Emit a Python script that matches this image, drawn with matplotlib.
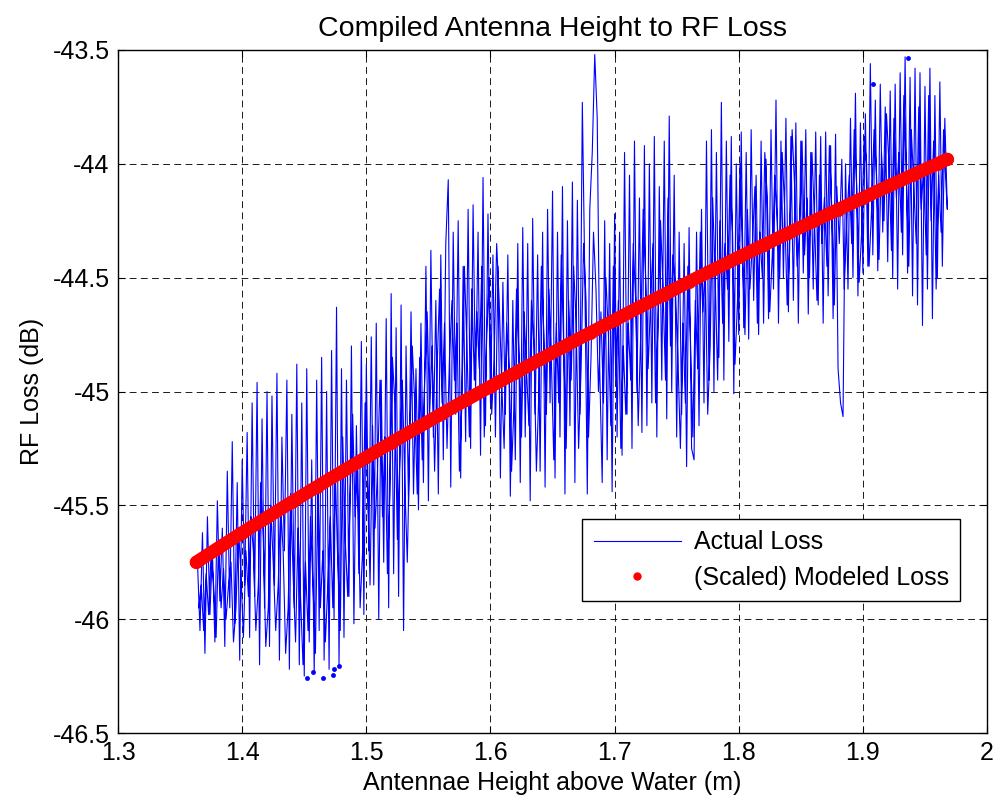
import matplotlib
matplotlib.use("Agg")
import matplotlib.pyplot as plt
from matplotlib.lines import Line2D

plt.rcParams['font.family'] = ['Liberation Sans', 'DejaVu Sans']

height = [
    1.364, 1.366, 1.368, 1.370, 1.372, 1.374, 1.376, 1.378, 1.380, 1.382,
    1.384, 1.386, 1.388, 1.390, 1.392, 1.394, 1.396, 1.398, 1.400, 1.402,
    1.404, 1.406, 1.408, 1.410, 1.412, 1.414, 1.416, 1.418, 1.420, 1.422,
    1.424, 1.426, 1.428, 1.430, 1.432, 1.434, 1.436, 1.438, 1.440, 1.442,
    1.444, 1.446, 1.448, 1.450, 1.452, 1.454, 1.456, 1.458, 1.460, 1.462,
    1.464, 1.466, 1.468, 1.470, 1.472, 1.474, 1.476, 1.478, 1.480, 1.482,
    1.484, 1.486, 1.488, 1.490, 1.492, 1.494, 1.496, 1.498, 1.500, 1.502,
    1.504, 1.506, 1.508, 1.510, 1.512, 1.514, 1.516, 1.518, 1.520, 1.522,
    1.524, 1.526, 1.528, 1.530, 1.532, 1.534, 1.536, 1.538, 1.540, 1.542,
    1.544, 1.546, 1.548, 1.550, 1.552, 1.554, 1.556, 1.558, 1.560, 1.562,
    1.564, 1.566, 1.568, 1.570, 1.572, 1.574, 1.576, 1.578, 1.580, 1.582,
    1.584, 1.586, 1.588, 1.590, 1.592, 1.594, 1.596, 1.598, 1.600, 1.602,
    1.604, 1.606, 1.608, 1.610, 1.612, 1.614, 1.616, 1.618, 1.620, 1.622,
    1.624, 1.626, 1.628, 1.630, 1.632, 1.634, 1.636, 1.638, 1.640, 1.642,
    1.644, 1.646, 1.648, 1.650, 1.652, 1.654, 1.656, 1.658, 1.660, 1.662,
    1.664, 1.666, 1.668, 1.670, 1.672, 1.674, 1.676, 1.678, 1.680, 1.682,
    1.684, 1.686, 1.688, 1.690, 1.692, 1.694, 1.696, 1.698, 1.700, 1.702,
    1.704, 1.706, 1.708, 1.710, 1.712, 1.714, 1.716, 1.718, 1.720, 1.722,
    1.724, 1.726, 1.728, 1.730, 1.732, 1.734, 1.736, 1.738, 1.740, 1.742,
    1.744, 1.746, 1.748, 1.750, 1.752, 1.754, 1.756, 1.758, 1.760, 1.762,
    1.764, 1.766, 1.768, 1.770, 1.772, 1.774, 1.776, 1.778, 1.780, 1.782,
    1.784, 1.786, 1.788, 1.790, 1.792, 1.794, 1.796, 1.798, 1.800, 1.802,
    1.804, 1.806, 1.808, 1.810, 1.812, 1.814, 1.816, 1.818, 1.820, 1.822,
    1.824, 1.826, 1.828, 1.830, 1.832, 1.834, 1.836, 1.838, 1.840, 1.842,
    1.844, 1.846, 1.848, 1.850, 1.852, 1.854, 1.856, 1.858, 1.860, 1.862,
    1.864, 1.866, 1.868, 1.870, 1.872, 1.874, 1.876, 1.878, 1.880, 1.882,
    1.884, 1.886, 1.888, 1.890, 1.892, 1.894, 1.896, 1.898, 1.900, 1.902,
    1.904, 1.906, 1.908, 1.910, 1.912, 1.914, 1.916, 1.918, 1.920, 1.922,
    1.924, 1.926, 1.928, 1.930, 1.932, 1.934, 1.936, 1.938, 1.940, 1.942,
    1.944, 1.946, 1.948, 1.950, 1.952, 1.954, 1.956, 1.958, 1.960, 1.962,
    1.964, 1.966, 1.968,
]
loss = [
    -45.75, -46.05, -45.62, -46.15, -45.55, -45.98, -45.70, -46.10, -45.48, -45.92,
    -45.60, -46.12, -45.35, -45.95, -45.22, -46.02, -45.40, -46.18, -45.30, -45.85,
    -45.18, -46.08, -45.05, -45.90, -44.96, -46.20, -45.12, -45.95, -45.00, -46.12,
    -45.02, -45.85, -44.92, -46.18, -45.20, -45.70, -44.95, -46.22, -45.10, -45.95,
    -44.88, -46.20, -45.05, -46.25, -44.90, -46.10, -45.30, -46.24, -44.95, -46.05,
    -44.85, -46.18, -45.00, -46.22, -44.82, -46.00, -44.63, -46.20, -44.90, -46.08,
    -44.95, -45.90, -44.80, -46.02, -45.15, -45.80, -44.78, -45.98, -44.88, -45.70,
    -44.76, -45.85, -44.70, -46.00, -44.95, -45.75, -44.68, -45.95, -44.57, -45.80,
    -44.72, -45.90, -44.62, -46.05, -44.80, -45.50, -44.65, -45.45, -44.90, -45.52,
    -44.70, -45.40, -44.45, -45.48, -44.38, -45.20, -44.60, -45.45, -44.40, -45.30,
    -44.35, -44.07, -45.42, -44.30, -45.10, -44.25, -45.38, -44.45, -45.22, -44.20,
    -45.25, -44.18, -45.00, -44.30, -45.28, -44.06, -45.15, -44.22, -45.05, -44.40,
    -45.20, -44.45, -45.38, -44.52, -45.10, -44.40, -45.46, -44.60, -45.30, -44.35,
    -45.40, -44.28, -45.20, -44.35, -45.48, -44.24, -45.10, -44.40, -45.35, -44.30,
    -45.42, -44.20, -45.05, -44.12, -45.38, -44.30, -45.20, -44.10, -45.45, -44.25,
    -45.15, -44.08, -45.40, -44.16, -45.10, -43.73, -44.50, -45.45, -44.20, -43.95,
    -43.52, -43.80, -44.90, -45.40, -44.25, -45.30, -44.35, -45.44, -44.22, -45.20,
    -44.30, -45.28, -43.95, -45.10, -44.05, -45.25, -43.90, -45.00, -44.15, -45.18,
    -43.92, -45.15, -44.00, -45.05, -43.88, -45.20, -44.10, -44.95, -43.90, -45.12,
    -43.79, -45.00, -44.05, -45.20, -44.30, -45.10, -44.35, -45.33, -44.28, -45.25,
    -45.30, -44.30, -45.15, -44.20, -45.05, -43.90, -44.95, -43.85, -45.00, -43.95,
    -44.85, -43.73, -44.95, -43.90, -44.78, -43.88, -45.01, -44.00, -44.75, -43.86,
    -44.72, -43.95, -44.77, -43.85, -44.60, -44.05, -44.75, -43.90, -44.70, -43.98,
    -44.68, -43.85, -44.55, -43.72, -44.70, -43.90, -44.50, -43.80, -44.65, -43.88,
    -44.60, -43.82, -44.70, -43.90, -44.48, -43.85, -44.66, -43.95, -44.55, -43.86,
    -44.62, -43.88, -44.70, -43.86, -44.58, -43.92, -44.68, -43.87, -44.90, -45.05,
    -45.11, -44.00, -44.55, -43.80, -44.50, -43.69, -44.58, -43.82, -44.48, -43.78,
    -44.45, -43.56, -44.40, -43.72, -44.47, -43.65, -44.30, -43.75, -44.43, -43.68,
    -44.50, -43.65, -44.55, -43.60, -44.40, -43.53, -44.48, -43.62, -44.58, -43.58,
    -44.62, -43.60, -44.71, -43.66, -44.55, -43.58, -44.68, -43.70, -44.50, -43.64,
    -44.45, -43.80, -44.20,
]

# return sweep
height_back = [
    1.967, 1.965, 1.963, 1.961, 1.959, 1.957, 1.955, 1.953, 1.951, 1.949,
    1.947, 1.945, 1.943, 1.941, 1.939, 1.937, 1.935, 1.933, 1.931, 1.929,
    1.927, 1.925, 1.923, 1.921, 1.919, 1.917, 1.915, 1.913, 1.911, 1.909,
    1.907, 1.905, 1.903, 1.901, 1.899, 1.897, 1.895, 1.893, 1.891, 1.889,
    1.887, 1.885, 1.883, 1.881, 1.879, 1.877, 1.875, 1.873, 1.871, 1.869,
    1.867, 1.865, 1.863, 1.861, 1.859, 1.857, 1.855, 1.853, 1.851, 1.849,
    1.847, 1.845, 1.843, 1.841, 1.839, 1.837, 1.835, 1.833, 1.831, 1.829,
    1.827, 1.825, 1.823, 1.821, 1.819, 1.817, 1.815, 1.813, 1.811, 1.809,
    1.807, 1.805, 1.803, 1.801, 1.799, 1.797, 1.795, 1.793, 1.791, 1.789,
    1.787, 1.785, 1.783, 1.781, 1.779, 1.777, 1.775, 1.773, 1.771, 1.769,
    1.767, 1.765, 1.763, 1.761, 1.759, 1.757, 1.755, 1.753, 1.751, 1.749,
    1.747, 1.745, 1.743, 1.741, 1.739, 1.737, 1.735, 1.733, 1.731, 1.729,
    1.727, 1.725, 1.723, 1.721, 1.719, 1.717, 1.715, 1.713, 1.711, 1.709,
    1.707, 1.705, 1.703, 1.701, 1.699, 1.697, 1.695, 1.693, 1.691, 1.689,
    1.687, 1.685, 1.683, 1.681, 1.679, 1.677, 1.675, 1.673, 1.671, 1.669,
    1.667, 1.665, 1.663, 1.661, 1.659, 1.657, 1.655, 1.653, 1.651, 1.649,
    1.647, 1.645, 1.643, 1.641, 1.639, 1.637, 1.635, 1.633, 1.631, 1.629,
    1.627, 1.625, 1.623, 1.621, 1.619, 1.617, 1.615, 1.613, 1.611, 1.609,
    1.607, 1.605, 1.603, 1.601, 1.599, 1.597, 1.595, 1.593, 1.591, 1.589,
    1.587, 1.585, 1.583, 1.581, 1.579, 1.577, 1.575, 1.573, 1.571, 1.569,
    1.567, 1.565, 1.563, 1.561, 1.559, 1.557, 1.555, 1.553, 1.551, 1.549,
    1.547, 1.545, 1.543, 1.541, 1.539, 1.537, 1.535, 1.533, 1.531, 1.529,
    1.527, 1.525, 1.523, 1.521, 1.519, 1.517, 1.515, 1.513, 1.511, 1.509,
    1.507, 1.505, 1.503, 1.501, 1.499, 1.497, 1.495, 1.493, 1.491, 1.489,
    1.487, 1.485, 1.483, 1.481, 1.479, 1.477, 1.475, 1.473, 1.471, 1.469,
    1.467, 1.465, 1.463, 1.461, 1.459, 1.457, 1.455, 1.453, 1.451, 1.449,
    1.447, 1.445, 1.443, 1.441, 1.439, 1.437, 1.435, 1.433, 1.431, 1.429,
    1.427, 1.425, 1.423, 1.421, 1.419, 1.417, 1.415, 1.413, 1.411, 1.409,
    1.407, 1.405, 1.403, 1.401, 1.399, 1.397, 1.395, 1.393, 1.391, 1.389,
    1.387, 1.385, 1.383, 1.381, 1.379, 1.377, 1.375, 1.373, 1.371, 1.369,
    1.367, 1.365,
]
loss_back = [
    -44.10, -43.85, -44.30, -44.05, -44.55, -43.90, -44.25, -43.70, -44.40, -44.00,
    -44.20, -43.75, -44.35, -44.10, -43.85, -44.45, -44.05, -43.70, -44.30, -43.95,
    -44.15, -43.80, -44.38, -44.00, -43.78, -44.25, -43.95, -44.42, -44.05, -43.85,
    -44.20, -44.45, -44.00, -43.88, -44.30, -44.52, -44.10, -43.85, -44.35, -44.05,
    -44.25, -44.55, -43.98, -44.35, -44.10, -44.62, -44.20, -43.92, -44.45, -44.15,
    -44.35, -44.05, -44.60, -44.25, -43.95, -44.50, -44.15, -44.40, -43.90, -44.30,
    -44.45, -44.10, -43.85, -44.38, -44.62, -44.20, -43.95, -44.50, -44.25, -44.05,
    -44.40, -44.65, -44.15, -43.95, -44.50, -44.30, -44.70, -44.10, -44.35, -44.55,
    -44.20, -44.75, -44.40, -44.00, -44.60, -44.88, -44.30, -44.05, -44.55, -44.35,
    -44.70, -44.25, -44.95, -44.50, -44.15, -44.80, -45.10, -44.45, -44.65, -44.30,
    -44.90, -44.60, -45.20, -44.75, -44.45, -45.05, -44.70, -45.25, -44.85, -44.55,
    -44.40, -44.80, -44.15, -44.95, -44.55, -44.25, -44.70, -45.05, -44.35, -44.60,
    -44.90, -44.50, -44.20, -44.75, -45.15, -44.60, -44.35, -44.95, -44.70, -45.10,
    -44.80, -45.25, -44.60, -44.95, -44.45, -45.15, -44.75, -44.50, -45.05, -44.65,
    -45.00, -44.55, -44.30, -44.85, -45.20, -44.60, -44.35, -44.90, -45.25, -44.70,
    -44.45, -44.95, -44.60, -45.25, -44.80, -44.40, -45.05, -44.70, -45.30, -44.85,
    -44.55, -45.10, -44.75, -44.45, -45.00, -45.35, -44.80, -44.60, -45.15, -44.90,
    -44.65, -45.20, -44.85, -44.55, -45.05, -45.35, -44.90, -44.70, -45.25, -44.95,
    -44.60, -44.35, -44.85, -45.10, -44.50, -44.75, -45.20, -44.45, -44.90, -44.65,
    -44.95, -44.55, -45.20, -44.80, -44.45, -45.05, -45.35, -44.70, -44.95, -44.60,
    -44.85, -45.25, -44.70, -45.05, -44.55, -44.90, -45.35, -44.80, -45.10, -44.65,
    -44.95, -45.30, -44.85, -45.45, -45.05, -44.80, -45.20, -45.75, -45.40, -44.95,
    -45.30, -45.65, -45.05, -44.85, -45.45, -45.80, -45.20, -45.55, -44.95, -45.35,
    -45.60, -45.15, -45.85, -45.40, -45.05, -45.70, -45.95, -45.30, -45.55, -45.10,
    -45.45, -45.90, -45.65, -45.20, -46.05, -45.75, -45.35, -45.95, -45.55, -45.85,
    -46.10, -45.70, -45.95, -45.40, -46.15, -45.85, -45.55, -46.05, -45.75, -46.20,
    -45.90, -45.60, -46.10, -45.80, -45.45, -45.95, -46.15, -45.70, -45.50, -45.85,
    -46.05, -45.75, -45.50, -45.95, -46.12, -45.65, -45.40, -45.85, -46.05, -45.70,
    -45.55, -45.90, -45.70, -46.08, -45.80, -45.60, -45.95, -46.10, -45.75, -45.85,
    -46.00, -45.78, -45.95, -45.65, -46.08, -45.85, -45.70, -45.98, -45.80, -46.05,
    -45.85, -45.95,
]

# isolated blue dots
dot_height = [1.4525, 1.457, 1.465, 1.473, 1.474, 1.478, 1.908, 1.936]
dot_loss = [-46.258, -46.23, -46.258, -46.245, -46.22, -46.206, -43.65, -43.535]

# scaled model
model_height = [1.363, 1.38, 1.40, 1.42, 1.44, 1.46, 1.48, 1.50, 1.52, 1.54,
                1.56, 1.58, 1.60, 1.62, 1.64, 1.66, 1.68, 1.70, 1.72, 1.74,
                1.76, 1.78, 1.80, 1.82, 1.84, 1.86, 1.88, 1.90, 1.92, 1.94,
                1.96, 1.968]
model_loss = [-45.75, -45.69, -45.62, -45.553, -45.485, -45.419, -45.353, -45.289,
              -45.225, -45.162, -45.10, -45.038, -44.978, -44.918, -44.859, -44.80,
              -44.743, -44.686, -44.629, -44.574, -44.518, -44.464, -44.41, -44.357,
              -44.304, -44.252, -44.201, -44.15, -44.099, -44.049, -44.00, -43.98]

fig = plt.figure(figsize=(9.97, 8.05), dpi=100)
ax = fig.add_axes([0.1184, 0.0894, 0.8716, 0.8485])

ax.plot(height + height_back, loss + loss_back, color='#0000ff', lw=0.8)
ax.plot(dot_height, dot_loss, ls='none', marker='o', ms=3.5, color='#0000ff', mec='none')
ax.plot(model_height, model_loss, color='#ff0000', lw=9.5, solid_capstyle='round')
ax.plot(model_height, model_loss, ls='none', marker='o', ms=9.5, color='#ff0000', mec='none')

ax.set_xlim(1.3, 2.0)
ax.set_ylim(-46.5, -43.5)
ax.set_xticks([1.3, 1.4, 1.5, 1.6, 1.7, 1.8, 1.9, 2.0])
ax.set_xticklabels(['1.3', '1.4', '1.5', '1.6', '1.7', '1.8', '1.9', '2'])
ax.set_yticks([-46.5, -46, -45.5, -45, -44.5, -44, -43.5])
ax.set_yticklabels(['-46.5', '-46', '-45.5', '-45', '-44.5', '-44', '-43.5'])
ax.tick_params(direction='in', length=5, width=0.8, labelsize=18, pad=6,
               top=True, right=True)
ax.grid(True, color='0.1', ls=(0, (7, 4.5)), lw=0.7)
for s in ax.spines.values():
    s.set_linewidth(1.0)

ax.set_title('Compiled Antenna Height to RF Loss', fontsize=20.5, pad=10)
ax.set_xlabel('Antennae Height above Water (m)', fontsize=18, labelpad=4)
ax.set_ylabel('RF Loss (dB)', fontsize=18, labelpad=6)

handles = [Line2D([], [], color='#0000ff', lw=0.8),
           Line2D([], [], ls='none', marker='o', ms=6, color='#ff0000', mec='none')]
leg = ax.legend(handles, ['Actual Loss', '(Scaled) Modeled Loss'],
                loc='upper right', bbox_to_anchor=(0.969, 0.313), fontsize=18,
                frameon=True, fancybox=False, edgecolor='black', framealpha=1,
                handlelength=3.5, handletextpad=0.5, borderpad=0.45,
                labelspacing=0.45, borderaxespad=0)
leg.get_frame().set_linewidth(1.0)

fig.savefig('out.png', dpi=100)
